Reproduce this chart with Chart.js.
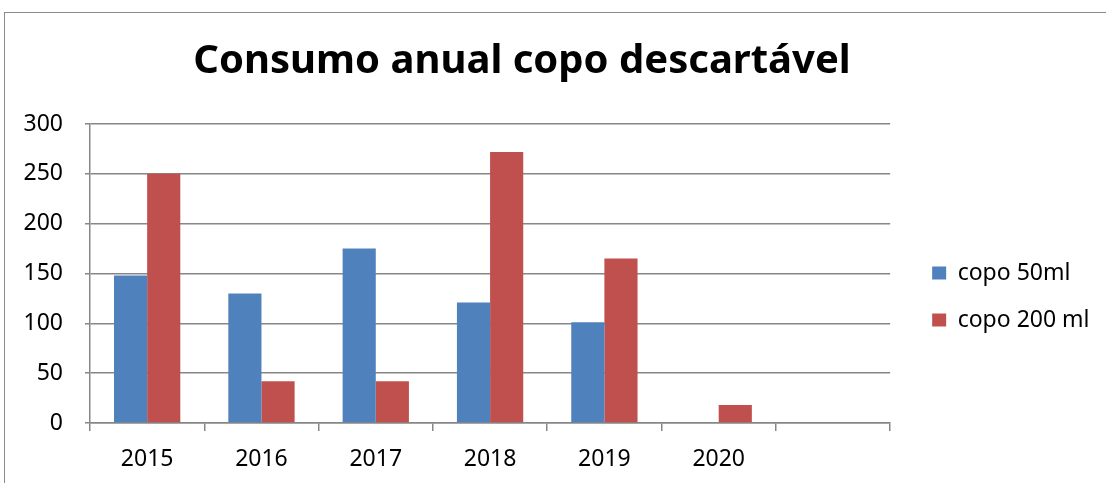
<!DOCTYPE html>
<html>
<head>
<meta charset="utf-8">
<script src="https://cdn.jsdelivr.net/npm/chart.js@4.4.0/dist/chart.umd.min.js"></script>
<style>
  html, body { margin: 0; padding: 0; background: #fff; overflow: hidden; }
  #wrap { position: relative; width: 1106px; height: 483px; }
  #frame { position: absolute; left: 4px; top: 12px; width: 1400px; height: 800px; border: 1px solid #8a8a8a; }
  canvas { position: absolute; left: 0; top: 0; }
</style>
</head>
<body>
<div id="wrap">
  <div id="frame"></div>
  <canvas id="chart" width="1106" height="483"></canvas>
</div>
<script>
const chartTitle = 'Consumo anual copo descartável'
const years = ['2015', '2016', '2017', '2018', '2019', '2020', '']
const copo50 = [148, 130, 175, 121, 101, 0, null]
const copo200 = [250, 42, 42, 272, 165, 18, null]
const yTicks = [0, 50, 100, 150, 200, 250, 300]

const gridColor = '#878787'
const font = { family: "'Noto Sans', sans-serif", size: 23 }
Chart.defaults.color = '#000'

// title is drawn by hand so it can sit a bit off the canvas centre like the original
const titlePlugin = {
    id: 'sheetTitle',
    afterDraw(chart) {
        const ctx = chart.ctx
        ctx.save()
        ctx.font = "bold 40px 'Noto Sans', sans-serif"
        ctx.fillStyle = '#000'
        ctx.textAlign = 'center'
        ctx.textBaseline = 'middle'
        ctx.fillText(chartTitle, 522, 62)
        ctx.restore()
    }
}

const ctx = document.getElementById('chart').getContext('2d')
new Chart(ctx, {
    type: 'bar',
    data: {
        labels: years,
        datasets: [
            {
                label: 'copo 50ml',
                data: copo50,
                backgroundColor: '#4f81bd',
                categoryPercentage: 0.58,
                barPercentage: 1
            },
            {
                label: 'copo 200 ml',
                data: copo200,
                backgroundColor: '#c0504d',
                categoryPercentage: 0.58,
                barPercentage: 1
            }
        ]
    },
    options: {
        responsive: false,
        animation: false,
        layout: {
            padding: { left: 4, top: 124, right: 17, bottom: 14 }
        },
        scales: {
            x: {
                grid: {
                    offset: true,
                    drawOnChartArea: false,
                    drawTicks: true,
                    tickLength: 8,
                    color: gridColor,
                    lineWidth: 1.5
                },
                border: { color: gridColor, width: 1.5 },
                ticks: { font: font, padding: 15 },
                afterFit(scale) { scale.height = 46 }
            },
            y: {
                min: 0,
                max: 300,
                afterBuildTicks(scale) { scale.ticks = yTicks.map(v => ({ value: v })) },
                grid: {
                    color: gridColor,
                    lineWidth: 1.5,
                    tickLength: 5
                },
                border: { color: gridColor, width: 1.5 },
                ticks: { font: font, padding: 22 },
                afterFit(scale) { scale.width = 86 }
            },
            // empty spacer between plot and legend
            gap: {
                type: 'linear',
                position: 'right',
                grid: { display: false },
                border: { display: false },
                ticks: { display: false },
                afterFit(scale) { scale.width = 18 }
            }
        },
        plugins: {
            title: { display: false },
            tooltip: { enabled: false },
            legend: {
                position: 'right',
                labels: {
                    font: font,
                    boxWidth: 14,
                    boxHeight: 13,
                    padding: 24,
                    color: '#000'
                }
            }
        }
    },
    plugins: [titlePlugin]
})
</script>
</body>
</html>
